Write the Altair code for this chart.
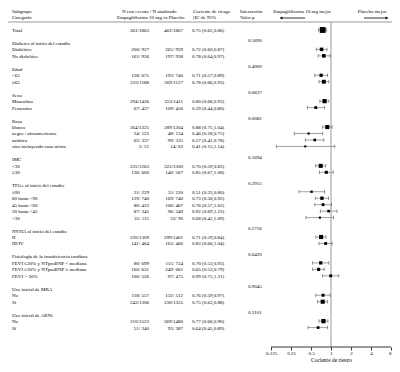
import altair as alt
import pandas as pd

FONT = "Liberation Serif"
FS = 5

# ---------------- data ----------------
group_names = ["Diabetes al inicio del estudio", "Edad", "Sexo", "Raza", "IMC",
               "TFGe al inicio del estudio", "NYHA al inicio del estudio",
               "Fisiología de la insuficiencia cardíaca", "Uso inicial de MRA",
               "Uso inicial de ARNi"]
group_line = [2, 6, 10, 14, 20, 24, 31, 35, 40, 44]
group_pvalue = ["0.5690", "0.4909", "0.0637", "0.0082", "0.1694",
                "0.2915", "0.2716", "0.0420", "0.9045", "0.3101"]

row_labels = ["Total", "Diabético", "No diabético", "<65", "≥65", "Masculino", "Femenino",
              "blanco", "negro / afroamericano", "asiático", "otro incluyendo raza mixta",
              "<30", "≥30", "≥90", "60 hasta <90", "45 hasta <60", "30 hasta <45", "<30",
              "II", "III/IV", "FEVI ≤30% y NTproBNP < mediana",
              "FEVI ≤30% y NTproBNP ≥ mediana", "FEVI > 30%", "No", "Sí", "No", "Sí"]
row_line = [0, 3, 4, 7, 8, 11, 12, 15, 16, 17, 18, 21, 22, 25, 26, 27, 28, 29,
            32, 33, 36, 37, 38, 41, 42, 45, 46]
emp_events = [361, 200, 161, 128, 233, 294, 67, 264, 24, 62, 5, 225, 136, 31, 129, 80, 87, 35,
              220, 141, 80, 160, 100, 118, 243, 310, 51]
emp_n = [1863, 927, 936, 675, 1188, 1426, 437, 1325, 123, 337, 51, 1263, 600, 229, 740, 433,
         345, 115, 1309, 464, 699, 631, 526, 557, 1306, 1523, 340]
pbo_events = [462, 265, 197, 193, 269, 353, 109, 289, 48, 99, 14, 322, 140, 55, 169, 106, 96,
              33, 299, 163, 115, 249, 97, 132, 330, 369, 93]
pbo_n = [1867, 929, 938, 740, 1127, 1411, 456, 1304, 134, 335, 63, 1300, 567, 220, 740, 467,
         349, 90, 1401, 466, 724, 661, 475, 512, 1355, 1480, 387]
hr = [0.75, 0.72, 0.78, 0.71, 0.78, 0.80, 0.59, 0.88, 0.46, 0.57, 0.41, 0.70, 0.85, 0.51, 0.73,
      0.76, 0.92, 0.68, 0.71, 0.83, 0.70, 0.65, 0.99, 0.76, 0.75, 0.77, 0.64]
ci_lo = [0.65, 0.60, 0.64, 0.57, 0.66, 0.68, 0.44, 0.75, 0.28, 0.41, 0.15, 0.59, 0.67, 0.33, 0.58,
         0.57, 0.69, 0.42, 0.59, 0.66, 0.53, 0.53, 0.75, 0.59, 0.63, 0.66, 0.45]
ci_hi = [0.86, 0.87, 0.97, 0.89, 0.93, 0.93, 0.80, 1.04, 0.75, 0.78, 1.14, 0.83, 1.08, 0.80, 0.92,
         1.02, 1.23, 1.09, 0.84, 1.04, 0.93, 0.79, 1.31, 0.97, 0.88, 0.90, 0.89]
tick_values = [0.125, 0.25, 0.5, 1, 2, 4, 8]


def frac(e, n):
    return f"{e}/{n}" if n >= 1000 else f"{e}/ {n}"


rows = pd.DataFrame({
    "label": row_labels,
    "idx": row_line,
    "emp": [frac(e, n) for e, n in zip(emp_events, emp_n)],
    "pbo": [frac(e, n) for e, n in zip(pbo_events, pbo_n)],
    "ci": [f"{h:.2f} ({l:.2f},{u:.2f})" for h, l, u in zip(hr, ci_lo, ci_hi)],
    "hr": hr, "lo": ci_lo, "hi": ci_hi,
    "n": [a + b for a, b in zip(emp_n, pbo_n)],
    "total": [i == 0 for i in range(len(row_labels))],
})
groups = pd.DataFrame({"label": group_names, "idx": group_line, "p": group_pvalue})
groups["pidx"] = groups["idx"] - 0.4

# ---------------- layout ----------------
W, H = 384, 333
ONE_X = 323          # plot x of HR = 1
PX_PER_DOUBLING = 20
xdom = [2 ** (-ONE_X / PX_PER_DOUBLING), 2 ** ((W - ONE_X) / PX_PER_DOUBLING)]
xscale = alt.Scale(type="log", base=2, domain=xdom, nice=False)
xaxis = alt.Axis(values=tick_values, format="~g", grid=False, domain=False,
                 tickSize=3, tickColor="#000", tickWidth=0.8,
                 labelFont=FONT, labelFontSize=FS, labelColor="#000", labelPadding=0,
                 title="Cociente de riesgo", titleFont=FONT, titleFontSize=5.5,
                 titleFontWeight="normal", titleColor="#000",
                 titleX=ONE_X, titleY=12, titleBaseline="middle")


def X(field):
    return alt.X(field, type="quantitative", scale=xscale, axis=xaxis)


Y_IDX = alt.Y("idx:Q", scale=alt.Scale(domain=[-2.47, 49.0], reverse=True), axis=None)
Y_P = alt.Y("pidx:Q", scale=alt.Scale(domain=[-2.47, 49.0], reverse=True), axis=None)

dummy = pd.DataFrame({"d": [0]})


def txt(text, x, y, align="left"):
    return alt.Chart(dummy).mark_text(text=text, font=FONT, fontSize=FS, align=align,
                                      baseline="middle", color="#000").encode(
        x=alt.value(x), y=alt.value(y))


def col(data, field, x, align, y=Y_IDX):
    return alt.Chart(data).mark_text(font=FONT, fontSize=FS, align=align,
                                     baseline="middle", color="#000").encode(
        x=alt.value(x), y=y, text=f"{field}:N")


layers = []

# reference line at HR = 1 and axis line
layers.append(alt.Chart(dummy).mark_rule(color="#bbbbbb", strokeWidth=1.5).encode(
    x=alt.datum(1, scale=xscale, axis=xaxis), y=alt.value(8), y2=alt.value(H)))
layers.append(alt.Chart(dummy).mark_rule(color="#000", strokeWidth=0.8).encode(
    x=alt.datum(tick_values[0]), x2=alt.datum(tick_values[-1]), y=alt.value(H)))
# header separator
layers.append(alt.Chart(dummy).mark_rule(color="#999999", strokeWidth=1).encode(
    x=alt.value(-1), x2=alt.value(W), y=alt.value(8)))

# header texts
layers += [
    txt("Subgrupo", 4, -3.5), txt("Categoría", 4, 2.5),
    txt("N con evento / N analizado", 114, -3.5),
    txt("Empagliflozina 10 mg vs Placebo", 109, 2.5),
    txt("Cociente de riesgo", 185, -3.5), txt("(IC de 95%", 185, 2.5),
    txt("Interacción", 232, -3.5), txt("Valor p", 232, 2.5),
    txt("Empagliflozina 10 mg mejor", 294, -3.5, "center"),
    txt("Placebo mejor", 364, -3.5, "center"),
]
# arrows
layers.append(alt.Chart(dummy).mark_rule(color="#000", strokeWidth=0.8).encode(
    x=alt.value(273), x2=alt.value(297), y=alt.value(4)))
layers.append(alt.Chart(dummy).mark_point(shape="triangle-left", filled=True, size=10,
                                          color="#000", opacity=1).encode(
    x=alt.value(273), y=alt.value(4)))
layers.append(alt.Chart(dummy).mark_rule(color="#000", strokeWidth=0.8).encode(
    x=alt.value(356), x2=alt.value(379), y=alt.value(4)))
layers.append(alt.Chart(dummy).mark_point(shape="triangle-right", filled=True, size=10,
                                          color="#000", opacity=1).encode(
    x=alt.value(379), y=alt.value(4)))

# table columns
layers += [
    col(rows, "label", 4, "left"),
    col(groups, "label", 4, "left"),
    col(rows, "emp", 141, "right"),
    col(rows, "pbo", 175, "right"),
    col(rows, "ci", 184, "left"),
    col(groups, "p", 240, "left", Y_P),
]

# forest
layers.append(alt.Chart(rows).mark_rule(color="#888888", strokeWidth=0.8).encode(
    x=X("lo"), x2="hi:Q", y=Y_IDX))
layers.append(alt.Chart(rows).mark_tick(orient="vertical", size=3.5, thickness=0.8,
                                        color="#444444").encode(x=X("lo"), y=Y_IDX))
layers.append(alt.Chart(rows).mark_tick(orient="vertical", size=3.5, thickness=0.8,
                                        color="#444444").encode(x=X("hi"), y=Y_IDX))
layers.append(alt.Chart(rows).transform_filter("!datum.total").mark_square(
    color="#000", opacity=1, filled=True).encode(
    x=X("hr"), y=Y_IDX,
    size=alt.Size("n:Q", scale=alt.Scale(domain=[100, 2900], range=[4, 18]), legend=None)))
layers.append(alt.Chart(rows).transform_filter("datum.total").mark_square(
    color="#000", opacity=1, filled=True, size=34).encode(x=X("hr"), y=Y_IDX))

chart = alt.layer(*layers).properties(
    width=W, height=H,
    padding={"left": 0, "top": 6, "right": 0, "bottom": 15},
    autosize=alt.AutoSizeParams(type="none"),
).configure_view(stroke=None).resolve_scale(size="independent")

chart.save("out.html", embed_options={"renderer": "svg", "actions": False})
